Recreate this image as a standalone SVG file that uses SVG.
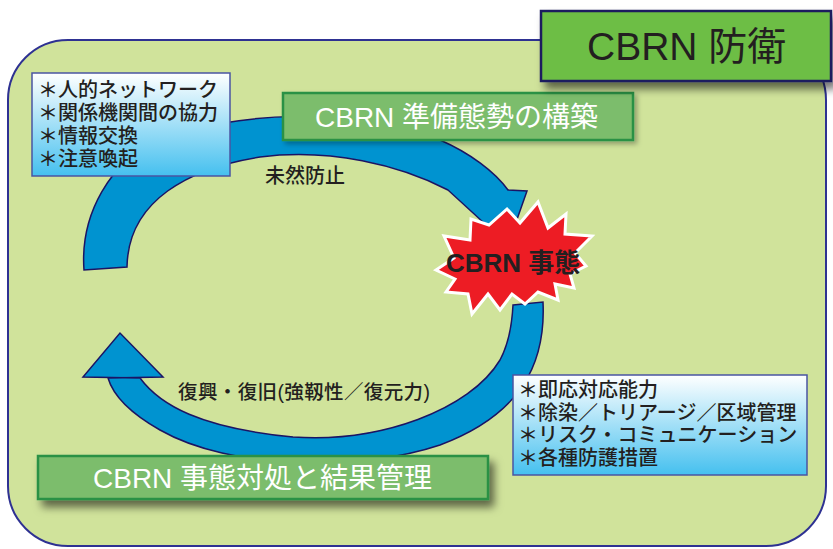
<svg xmlns="http://www.w3.org/2000/svg" width="833" height="549" viewBox="0 0 833 549">
<defs>
<linearGradient id="blueGrad" x1="0" y1="0" x2="0" y2="1">
<stop offset="0" stop-color="#ffffff"/>
<stop offset="1" stop-color="#45c0ef"/>
</linearGradient>
<filter id="shadow" x="-10%" y="-30%" width="130%" height="180%">
<feDropShadow dx="5" dy="7" stdDeviation="4" flood-color="#000" flood-opacity="0.55"/>
</filter>
<filter id="shadowLight" x="-10%" y="-30%" width="130%" height="180%">
<feDropShadow dx="3" dy="3" stdDeviation="2.5" flood-color="#000" flood-opacity="0.3"/>
</filter>
<style>
.jp{font-family:'Liberation Sans','Noto Sans CJK JP',sans-serif;}
.dark{fill:#231f20;}
.list{font-size:20px;font-weight:500;}
.arrow{fill:#0093d0;stroke:#1b1464;stroke-width:1.5;stroke-linejoin:miter;}
.listbox{fill:url(#blueGrad);stroke:#4a55a2;stroke-width:1.5;}
.gbox{fill:#7cbd6c;stroke:#2a9144;stroke-width:2.5;}
.wtext{fill:#ffffff;font-size:28px;}
</style>
</defs>
<rect width="833" height="549" fill="#ffffff"/>
<rect id="panel" x="8" y="40" width="818" height="506" rx="60" ry="60" fill="#d0e39b" stroke="#2e3192" stroke-width="2"/>

<g id="connectors">
<path id="arrow-prevent" class="arrow" d="M84,270 C80,215 110,160 160,140 C230,112 360,105 440,140 C470,153 495,172 508,190 L527,191 L508,245 L448,190 C400,165 330,148 260,157 C190,168 128,200 127,267 Z"/>
<path id="arrow-recover" class="arrow" d="M513,305 L543,302 C546,365 520,415 440,445 C360,472 230,470 160,430 C130,413 113,395 108,378 L163,377 L120,333 L83,377 L140,378 C160,405 200,428 293,437 C380,443 470,410 500,360 C508,345 512,325 513,305 Z"/>
</g>

<g id="incident">
<polygon points="538,202 548,228 566,214 565,234 592,236 575,253 586,266 570,274 574,288 555,284 558,300 538,292 525,304 512,294 500,310 488,294 472,314 468,294 446,292 455,279 436,270 454,258 444,236 470,240 471,219 489,225 507,209 520,223" fill="#ed1c24" stroke="#ffffff" stroke-width="3" stroke-linejoin="miter"/>
<text class="jp dark" x="446" y="272" font-size="26" font-weight="bold">CBRN 事態</text>
</g>

<g id="label-prevent">
<text class="jp dark" x="265" y="182.5" font-size="20" font-weight="500">未然防止</text>
</g>
<g id="label-recover">
<text class="jp dark" x="178" y="399" font-size="19.5" font-weight="500" textLength="252" lengthAdjust="spacing">復興・復旧(強靱性／復元力)</text>
</g>

<g id="list-prevent">
<rect class="listbox" x="32" y="73" width="198" height="103"/>
<text class="jp dark list" x="38" y="96.5">＊人的ネットワーク</text>
<text class="jp dark list" x="38" y="119.5">＊関係機関間の協力</text>
<text class="jp dark list" x="38" y="142.5">＊情報交換</text>
<text class="jp dark list" x="38" y="165.5">＊注意喚起</text>
</g>

<g id="list-response">
<rect class="listbox" x="513" y="375" width="294" height="100"/>
<text class="jp dark list" x="518" y="397">＊即応対応能力</text>
<text class="jp dark list" x="518" y="419.5">＊除染／トリアージ／区域管理</text>
<text class="jp dark list" x="518" y="442">＊リスク・コミュニケーション</text>
<text class="jp dark list" x="518" y="465">＊各種防護措置</text>
</g>

<g id="prep-box">
<rect class="gbox" x="283" y="93" width="350" height="47" filter="url(#shadowLight)"/>
<text class="jp wtext" x="315" y="127">CBRN 準備態勢の構築</text>
</g>

<g id="response-box">
<rect class="gbox" x="38" y="456" width="450" height="43" filter="url(#shadow)"/>
<text class="jp wtext" x="93" y="488">CBRN 事態対処と結果管理</text>
</g>

<g id="title">
<rect x="541" y="11" width="290" height="70" fill="#6dbe45" stroke="#1f1a5e" stroke-width="2.5" filter="url(#shadow)"/>
<text class="jp dark" x="587" y="60" font-size="39">CBRN 防衛</text>
</g>
</svg>
